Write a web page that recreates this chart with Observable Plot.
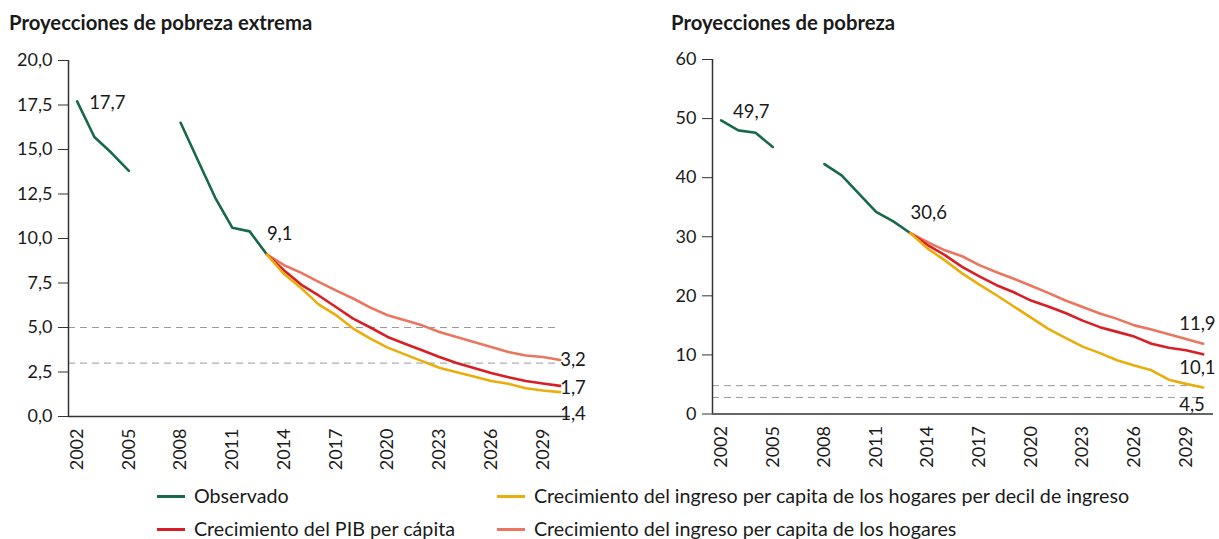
<!DOCTYPE html>
<html><head><meta charset="utf-8">
<script src="https://cdn.jsdelivr.net/npm/d3@7"></script>
<script src="https://cdn.jsdelivr.net/npm/@observablehq/plot@0.6"></script>
<style>
body{margin:0;background:#fff;font-family:Lato,"Open Sans",sans-serif;color:#1a1a1a;}
#wrap{position:relative;width:1219px;height:539px;overflow:hidden;}
.title{position:absolute;top:10px;font-weight:bold;font-size:20.3px;line-height:24px;}
.panel{position:absolute;top:35px;}
.leg{position:absolute;font-size:19.7px;display:flex;align-items:center;white-space:nowrap;line-height:24px;}
.leg span.sw{display:inline-block;width:28px;height:3px;margin-right:9px;}
</style></head>
<body><div id="wrap"></div>
<script>
const years = d3.range(2002, 2031);
// Pobreza extrema (%)
const obsExtrema = [17.7,15.7,14.8,13.8,null,null,16.5,14.4,12.3,10.6,10.4,9.1,null,null,null,null,null,null,null,null,null,null,null,null,null,null,null,null,null];
const projYears = d3.range(2013, 2031);
const pibExtrema = [9.1,8.2,7.4,6.8,6.15,5.5,5.0,4.47,4.09,3.72,3.34,3.0,2.72,2.44,2.21,1.99,1.85,1.72];
const decilExtrema = [9.1,8.0,7.2,6.3,5.7,4.94,4.37,3.87,3.49,3.11,2.74,2.49,2.25,1.99,1.84,1.59,1.46,1.37];
const hogaresExtrema = [9.1,8.5,8.07,7.56,7.09,6.63,6.12,5.69,5.41,5.12,4.75,4.47,4.18,3.9,3.62,3.43,3.34,3.17];
// Pobreza (%)
const obsPobreza = [49.7,48.0,47.6,45.2,null,null,42.3,40.4,37.3,34.2,32.6,30.6,null,null,null,null,null,null,null,null,null,null,null,null,null,null,null,null,null];
const pibPobreza = [30.6,28.6,26.9,24.9,23.3,21.8,20.6,19.2,18.2,17.1,15.8,14.7,13.9,13.1,11.9,11.2,10.8,10.1];
const decilPobreza = [30.6,28.0,26.0,23.8,21.9,20.1,18.2,16.3,14.4,12.9,11.4,10.3,9.1,8.2,7.4,5.8,5.1,4.5];
const hogaresPobreza = [30.6,29.1,27.7,26.7,25.2,24.0,22.9,21.7,20.5,19.2,18.1,17.0,16.1,15.0,14.3,13.5,12.7,11.9];
const refExtrema = [5.0, 3.0];
const refPobreza = [4.8, 2.8];
const xTicks = [2002,2005,2008,2011,2014,2017,2020,2023,2026,2029];
const yTicksExtrema = [0,2.5,5,7.5,10,12.5,15,17.5,20];
const yTicksPobreza = [0,10,20,30,40,50,60];
const seriesNames = ["Observado","Crecimiento del PIB per cápita","Crecimiento del ingreso per capita de los hogares per decil de ingreso","Crecimiento del ingreso per capita de los hogares"];
const colors = ["#17694a","#d71f26","#e9ae0c","#ea7660"];
const titles = ["Proyecciones de pobreza extrema","Proyecciones de pobreza"];

const fmtComma = d => d3.format(".1f")(d).replace(".", ",");

function makeTable(obs, pib, dec, hog){
  const rows = [];
  years.forEach((y,i)=>rows.push({year:y, value: obs[i]==null?NaN:obs[i], s:seriesNames[0]}));
  projYears.forEach((y,i)=>rows.push({year:y, value:hog[i], s:seriesNames[3]}));
  projYears.forEach((y,i)=>rows.push({year:y, value:pib[i], s:seriesNames[1]}));
  projYears.forEach((y,i)=>rows.push({year:y, value:dec[i], s:seriesNames[2]}));
  return rows;
}

function panel(opts){
  const data = makeTable(opts.obs, opts.pib, opts.dec, opts.hog);
  const n = opts.pib.length - 1;
  const lab = (year, value, dx, dy) => Plot.text([{year, value}], {x:"year", y:"value", text:d=>fmtComma(d.value), dx, dy, textAnchor:"start", fontSize:18.5, fill:"#1a1a1a"});
  return Plot.plot({
    width: opts.width, height: 440,
    marginLeft: opts.ml, marginRight: opts.mr, marginTop: opts.mt, marginBottom: opts.mb,
    style:{fontFamily:"Lato, 'Open Sans', sans-serif", fontSize:"18px", color:"#1a1a1a", overflow:"visible"},
    x:{domain:[2001.5, 2030.6], axis:null, label:null},
    y:{domain:opts.ydomain, axis:null, label:null},
    color:{domain:seriesNames, range:colors},
    marks:[
      Plot.ruleY(opts.refs, {stroke:"#9a9a9a", strokeDasharray:"7,5", strokeWidth:1, x1:2001.5, x2:2029.9}),
      Plot.axisY({ticks:opts.yticks, tickSize:10, tickFormat:opts.yfmt, fontSize:18, tickPadding:6, stroke:"#333", label:null}),
      Plot.axisX({ticks:xTicks, tickSize:0, tickFormat:d=>String(d), tickRotate:-90, fontSize:18, tickPadding:12, label:null}),
      Plot.ruleX([2001.5], {y1:opts.ydomain[0], y2:opts.ydomain[1], stroke:"#333", strokeWidth:1.5}),
      Plot.ruleY([opts.ydomain[0]], {stroke:"#333", strokeWidth:1.5}),
      Plot.line(data, {x:"year", y:"value", z:"s", stroke:"s", strokeWidth:2.6}),
      lab(2002, opts.obs[0], opts.l1dx, opts.l1dy),
      lab(2013, opts.obs[11], 0, -20),
      lab(2030, opts.hog[n], opts.edx, opts.dyHog),
      lab(2030, opts.pib[n], opts.edx, opts.dyPib),
      lab(2030, opts.dec[n], opts.edx, opts.dyDec)
    ]
  });
}

const wrap = document.getElementById("wrap");
function addDiv(cls, style, html){const d=document.createElement("div");d.className=cls;Object.assign(d.style,style);d.innerHTML=html;wrap.appendChild(d);return d;}

addDiv("title",{left:"9px"},titles[0]);
addDiv("title",{left:"671px"},titles[1]);

const p1 = panel({width:600, ml:68, mr:30, mt:25, mb:59, ydomain:[0,20], yticks:yTicksExtrema, yfmt:fmtComma,
  obs:obsExtrema, pib:pibExtrema, dec:decilExtrema, hog:hogaresExtrema, refs:refExtrema,
  l1dx:12, l1dy:2, edx:0, dyHog:0, dyPib:2, dyDec:22});
const d1 = addDiv("panel",{left:"0px"},""); d1.appendChild(p1);

const p2 = panel({width:579, ml:72, mr:6, mt:24, mb:61.5, ydomain:[0,60], yticks:yTicksPobreza, yfmt:d=>String(d),
  obs:obsPobreza, pib:pibPobreza, dec:decilPobreza, hog:hogaresPobreza, refs:refPobreza,
  l1dx:12, l1dy:-8, edx:-24, dyHog:-20, dyPib:14, dyDec:18});
const d2 = addDiv("panel",{left:"640px"},""); d2.appendChild(p2);

const legendPos = [[157,484],[497,484],[157,517],[497,517]];
const legOrder = [0,2,1,3];
legOrder.forEach((si,k)=>{
  const [x,y] = legendPos[k];
  addDiv("leg",{left:x+"px", top:y+"px"}, `<span class="sw" style="background:${colors[si]}"></span>${seriesNames[si]}`);
});
</script></body></html>
